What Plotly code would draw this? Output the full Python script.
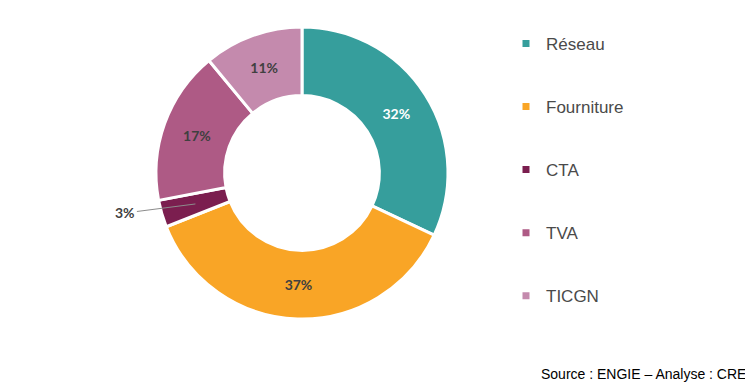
import math
import plotly.graph_objects as go

categories = ["Réseau", "Fourniture", "CTA", "TVA", "TICGN"]
values = [32, 37, 3, 17, 11]
colors = ["#369E9C", "#F9A526", "#7B1E4F", "#AE5A85", "#C48AAD"]
text_colors = ["#FFFFFF", "#404040", "#404040", "#404040", "#404040"]
text_templates = ["%{percent:.0%}", "%{percent:.0%}", "", "%{percent:.0%}", "%{percent:.0%}"]
source_text = "Source : ENGIE – Analyse : CRE"

# page has an 8px body margin
W, H = 745, 380
cx, cy, r = 294, 165, 146
hole = 0.53

fig = go.Figure()
fig.add_trace(go.Pie(
    labels=categories, values=values, sort=False, direction="clockwise",
    rotation=0, hole=hole,
    marker=dict(colors=colors, line=dict(color="white", width=3)),
    texttemplate=text_templates,
    textposition="inside",
    insidetextorientation="horizontal",
    textfont=dict(family="Lato", size=14, color=text_colors, weight="bold"),
    showlegend=False,
    automargin=False,
    hoverinfo="label+percent",
    domain=dict(x=[(cx - r) / W, (cx + r) / W], y=[(H - cy - r) / H, (H - cy + r) / H]),
))

# leader label for the small CTA slice, located from the data
idx = categories.index("CTA")
total = sum(values)
theta = 2 * math.pi * (sum(values[:idx]) + values[idx] / 2) / total
rr = 111
px = cx + rr * math.sin(theta)
py = cy - rr * math.cos(theta)
pct = round(100 * values[idx] / total)

for i, (c, col) in enumerate(zip(categories, colors)):
    fig.add_trace(go.Scatter(
        x=[None], y=[None], mode="markers", name=c,
        marker=dict(symbol="square", size=7, color=col),
        legendgroup=f"g{i}", showlegend=True,
    ))

fig.update_layout(
    width=W, height=H,
    margin=dict(l=0, r=0, t=0, b=0),
    paper_bgcolor="white", plot_bgcolor="white",
    xaxis=dict(visible=False), yaxis=dict(visible=False),
    legend=dict(
        x=498 / W, y=0.953, xanchor="left", yanchor="top",
        font=dict(family="Liberation Sans, Arial", size=17, color="#4a4a4a"),
        tracegroupgap=38, itemwidth=30,
        bgcolor="rgba(0,0,0,0)",
    ),
    annotations=[
        dict(
            text=source_text, xref="paper", yref="paper", x=740 / W, y=4 / H,
            xanchor="right", yanchor="bottom", showarrow=False,
            font=dict(family="Liberation Sans, Arial", size=14, color="#000000"),
        ),
        dict(
            text=f"<b>{pct}%</b>", xref="paper", yref="paper",
            x=px / W, y=1 - py / H, showarrow=True, arrowhead=0,
            arrowwidth=1, arrowcolor="#8c8c8c", ax=-70, ay=9, standoff=0,
            font=dict(family="Lato", size=14, color="#404040"),
        ),
    ],
)

fig.write_html("out.html")
